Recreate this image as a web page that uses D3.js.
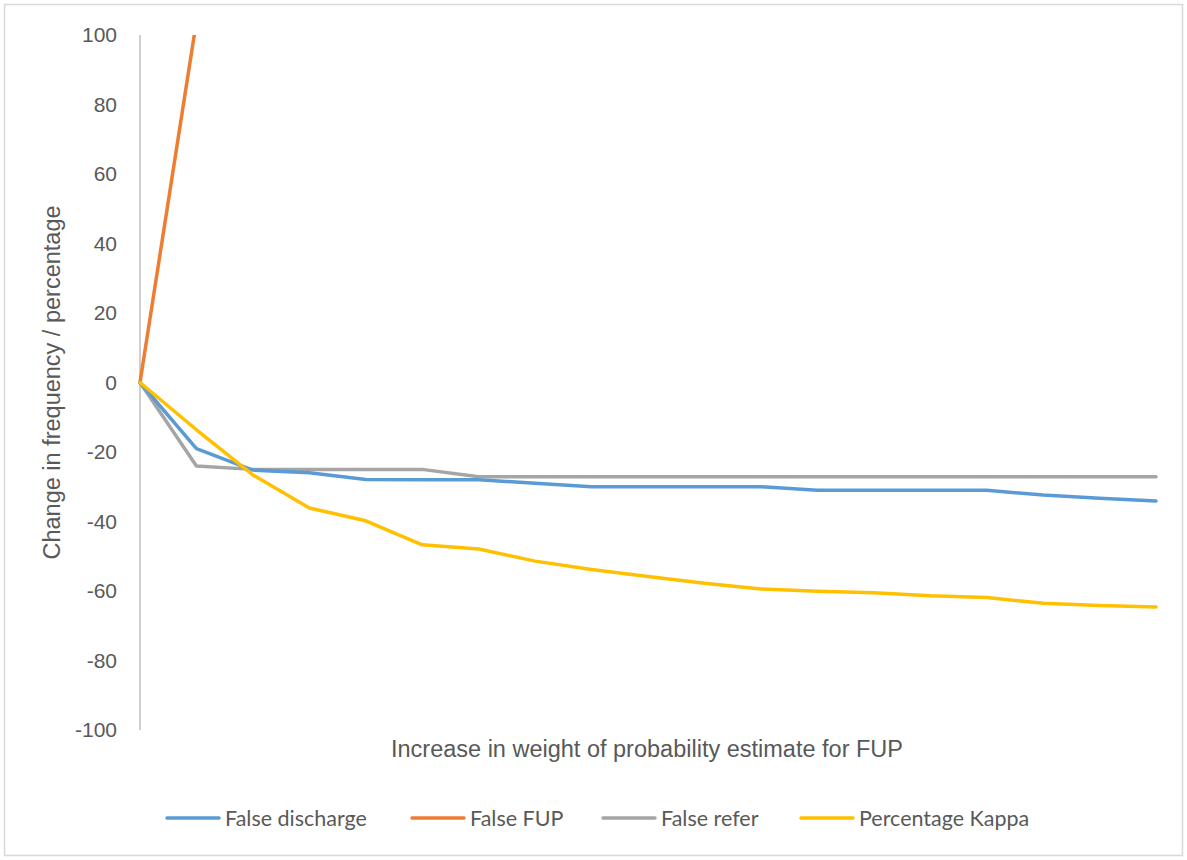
<!DOCTYPE html>
<html>
<head>
<meta charset="utf-8">
<script src="https://cdn.jsdelivr.net/npm/d3@7"></script>
<style>
  html, body { margin: 0; padding: 0; background: #fff; }
  svg { display: block; }
</style>
</head>
<body>
<svg id="chart" width="1187" height="860"></svg>
<script>
// Steps of increasing weight on the FUP probability estimate (19 steps)
const steps = d3.range(19);

const falseDischarge = [0, -19, -25.2, -26, -27.9, -28, -28, -29, -30, -30, -30, -30, -31, -31, -31, -31, -32.4, -33.3, -34.1];
const falseFUP = [0, 104, 150, 190, 230, 260, 290, 320, 340, 360, 380, 400, 420, 440, 455, 470, 485, 500, 515];
const falseRefer = [0, -24, -25, -25, -25, -25, -27.1, -27.1, -27.1, -27.1, -27.1, -27.1, -27.1, -27.1, -27.1, -27.1, -27.1, -27.1, -27.1];
const percentageKappa = [0, -13.6, -26.6, -36.1, -39.8, -46.7, -47.9, -51.4, -53.8, -55.8, -57.8, -59.4, -60.1, -60.5, -61.4, -61.9, -63.5, -64.2, -64.6];

const seriesNames = ["False discharge", "False FUP", "False refer", "Percentage Kappa"];
const seriesValues = [falseDischarge, falseFUP, falseRefer, percentageKappa];
const seriesColors = ["#5B9BD5", "#ED7D31", "#A5A5A5", "#FFC000"];

const yTicks = [-100, -80, -60, -40, -20, 0, 20, 40, 60, 80, 100];

const svg = d3.select("#chart");
const W = 1187, H = 860;

// Outer chart frame
svg.append("rect")
  .attr("x", 4.5).attr("y", 4.5)
  .attr("width", W - 9).attr("height", H - 9)
  .attr("fill", "#fff").attr("stroke", "#D9D9D9").attr("stroke-width", 1.5);

const plotLeft = 140, plotRight = 1156, plotTop = 35, plotBottom = 730;

const x = d3.scaleLinear().domain([0, steps.length - 1]).range([plotLeft, plotRight]);
const y = d3.scaleLinear().domain([-100, 100]).range([plotBottom, plotTop]);

// Value axis labels (plain hyphen for negatives)
const yAxis = d3.axisLeft(y)
  .tickValues(yTicks)
  .tickFormat(d => String(d))
  .tickSize(0)
  .tickPadding(23);
const gy = svg.append("g").attr("transform", `translate(${plotLeft},0)`).call(yAxis);
gy.select(".domain").remove();
gy.selectAll("text")
  .attr("fill", "#595959")
  .style("font-family", "'Liberation Sans', Arial, sans-serif")
  .style("font-size", "21px");

// Vertical axis line
svg.append("line")
  .attr("x1", plotLeft).attr("x2", plotLeft)
  .attr("y1", y(100)).attr("y2", y(-100))
  .attr("stroke", "#BFBFBF").attr("stroke-width", 1.5);

// Clip lines to the plot area
svg.append("clipPath").attr("id", "plotClip")
  .append("rect")
  .attr("x", plotLeft - 5).attr("y", plotTop)
  .attr("width", plotRight - plotLeft + 10).attr("height", plotBottom - plotTop);

const line = d3.line()
  .x((d, i) => x(steps[i]))
  .y(d => y(d));

const plot = svg.append("g").attr("clip-path", "url(#plotClip)");
// Draw order: orange underneath, then gray, blue, yellow on top
const order = [1, 2, 0, 3];
order.forEach(k => {
  plot.append("path")
    .datum(seriesValues[k])
    .attr("d", line)
    .attr("fill", "none")
    .attr("stroke", seriesColors[k])
    .attr("stroke-width", 3.5)
    .attr("stroke-linejoin", "round")
    .attr("stroke-linecap", "round");
});

// Axis titles
svg.append("text")
  .attr("transform", `translate(60,${(plotTop + plotBottom) / 2}) rotate(-90)`)
  .attr("text-anchor", "middle")
  .attr("fill", "#595959")
  .style("font-family", "'Liberation Sans', Arial, sans-serif")
  .style("font-size", "23.5px")
  .text("Change in frequency / percentage");

svg.append("text")
  .attr("x", 647).attr("y", 757)
  .attr("text-anchor", "middle")
  .attr("fill", "#595959")
  .style("font-family", "'Liberation Sans', Arial, sans-serif")
  .style("font-size", "23.5px")
  .text("Increase in weight of probability estimate for FUP");

// Legend
const legendX = [167, 412, 603, 801];
const legend = svg.append("g");
seriesNames.forEach((name, i) => {
  const g = legend.append("g").attr("transform", `translate(${legendX[i]},818)`);
  g.append("line")
    .attr("x1", 0).attr("x2", 52).attr("y1", 0).attr("y2", 0)
    .attr("stroke", seriesColors[i]).attr("stroke-width", 3.5)
    .attr("stroke-linecap", "round");
  g.append("text")
    .attr("x", 58).attr("y", 7.5)
    .attr("fill", "#595959")
    .style("font-family", "Lato, 'Open Sans', sans-serif")
    .style("font-size", "21.5px")
    .text(name);
});
</script>
</body>
</html>
